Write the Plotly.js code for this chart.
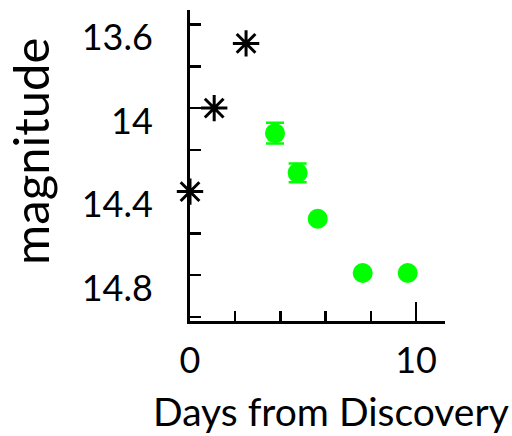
<!DOCTYPE html>
<html>
<head>
<meta charset="utf-8">
<script src="https://cdn.plot.ly/plotly-3.0.1.min.js"></script>
<style>
  html, body { margin: 0; padding: 0; background: #fff; }
  #chart { width: 512px; height: 436px; }
</style>
</head>
<body>
<div id="chart"></div>
<script>
// Early photometry (asterisks) and follow-up measurements (green points)
const earlyDays = [0.0, 1.07, 2.48];
const earlyMag = [14.4, 14.0, 13.69];

const laterDays = [3.76, 4.76, 5.65, 7.64, 9.63];
const laterMag = [14.12, 14.31, 14.53, 14.79, 14.79];
const laterErr = [0.05, 0.045, 0, 0, 0];

const xTickVals = [0, 10];
const xTickText = ['0', '10'];
const yTickVals = [13.6, 14.0, 14.4, 14.8];
const yTickText = ['13.6', '14', '14.4', '14.8'];

const font = 'Lato, "Open Sans", sans-serif';

const traces = [
  {
    x: earlyDays, y: earlyMag,
    type: 'scatter', mode: 'markers',
    marker: { symbol: 'asterisk-open', size: 22, color: '#000', line: { color: '#000', width: 3 } },
    cliponaxis: false,
    hoverinfo: 'x+y'
  },
  {
    x: laterDays, y: laterMag,
    type: 'scatter', mode: 'markers',
    marker: { symbol: 'circle', size: 20, color: '#00ff00' },
    error_y: { type: 'data', array: laterErr, visible: true, color: '#00ff00', thickness: 2.5, width: 9 },
    hoverinfo: 'x+y'
  }
];

const layout = {
  width: 512, height: 436,
  margin: { l: 190, r: 67, t: 10, b: 115 },
  paper_bgcolor: '#fff', plot_bgcolor: '#fff',
  showlegend: false,
  font: { family: font, color: '#000' },
  xaxis: {
    range: [0, 11.28],
    showgrid: false, zeroline: false,
    showline: true, linecolor: '#000', linewidth: 3,
    ticks: 'inside', ticklen: 19, tickwidth: 2.5, tickcolor: '#000',
    tickmode: 'array', tickvals: xTickVals, ticktext: xTickText,
    ticklabelstandoff: 6,
    tickfont: { family: font, size: 36, color: '#000' },
    minor: { tickmode: 'linear', tick0: 0, dtick: 2, ticks: 'inside', ticklen: 10, tickwidth: 2.5, tickcolor: '#000' }
  },
  yaxis: {
    range: [15.02, 13.53],
    showgrid: false, zeroline: false,
    showline: true, linecolor: '#000', linewidth: 3,
    ticks: 'inside', ticklen: 11, tickwidth: 2.5, tickcolor: '#000',
    tickmode: 'array', tickvals: yTickVals, ticktext: yTickText,
    ticklabelstandoff: 27,
    ticklabelshift: -13,
    tickfont: { family: font, size: 36, color: '#000' },
    minor: { tickmode: 'linear', tick0: 13.6, dtick: 0.2, ticks: 'inside', ticklen: 11, tickwidth: 2.5, tickcolor: '#000' }
  },
  annotations: [
    {
      text: 'Days from Discovery', xref: 'paper', yref: 'paper',
      x: (331 - 190) / 255, y: -(411 - 321) / 311,
      xanchor: 'center', yanchor: 'middle', showarrow: false,
      font: { family: font, size: 39, color: '#000' }
    },
    {
      text: 'magnitude', xref: 'paper', yref: 'paper',
      x: -(190 - 30) / 255, y: (321 - 152) / 311,
      xanchor: 'center', yanchor: 'middle', textangle: -90, showarrow: false,
      font: { family: font, size: 49, color: '#000' }
    }
  ]
};

Plotly.newPlot('chart', traces, layout, { displayModeBar: false, staticPlot: true });
</script>
</body>
</html>
